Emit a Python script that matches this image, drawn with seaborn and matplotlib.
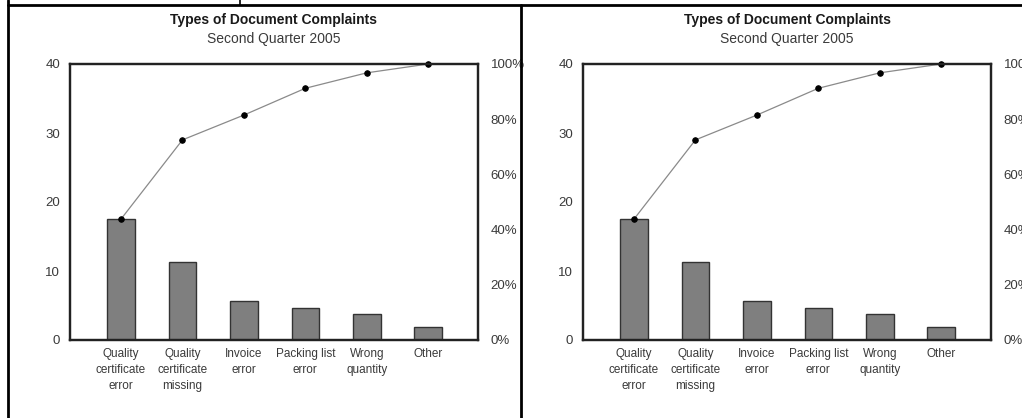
import numpy as np
import pandas as pd
import matplotlib
matplotlib.use("Agg")
import matplotlib.pyplot as plt
from matplotlib.lines import Line2D
import seaborn as sns

categorias = ["Quality\ncertificate\nerror", "Quality\ncertificate\nmissing",
              "Invoice\nerror", "Packing list\nerror", "Wrong\nquantity", "Other"]
contagens = [17.5, 11.35, 5.65, 4.6, 3.7, 1.85]
acumulado_pct = [43.8, 72.5, 81.5, 91.2, 96.8, 100.0]
ticks_esq = [0, 10, 20, 30, 40]
ticks_dir = [0, 20, 40, 60, 80, 100]
titulo = "Types of Document Complaints"
subtitulo = "Second Quarter 2005"

sns.set_style("white")
plt.rcParams["font.family"] = ["Liberation Sans", "DejaVu Sans"]

W, H = 1022, 418
fig = plt.figure(figsize=(W / 100, H / 100), dpi=100)

df = pd.DataFrame({"categoria": categorias, "contagem": contagens, "acum": acumulado_pct})
cor_texto = "#3a3a3a"


def px_rect(x0, y_top, w, h):
    return [x0 / W, (H - y_top - h) / H, w / W, h / H]


def painel(x0):
    ax = fig.add_axes(px_rect(x0, 64, 408, 276))
    sns.barplot(data=df, x="categoria", y="contagem", color="#7f7f7f", saturation=1,
                edgecolor="#333333", linewidth=1.0, width=0.45, ax=ax)
    ax.set_xlim(-0.83, 5.81)
    ax.set_ylim(0, 40)
    ax.set_yticks(ticks_esq)
    ax.set_xlabel("")
    ax.set_ylabel("")
    ax.tick_params(axis="y", length=0, pad=7, labelsize=9.5, labelcolor=cor_texto)
    ax.tick_params(axis="x", length=0, pad=6, labelsize=8.5, labelcolor=cor_texto)
    for lab in ax.get_xticklabels():
        lab.set_linespacing(1.4)
    for s in ax.spines.values():
        s.set_visible(True)
        s.set_color("#222222")
        s.set_linewidth(1.6)

    ax2 = ax.twinx()
    sns.pointplot(data=df, x="categoria", y="acum", color="black", markersize=4,
                  linewidth=0.9, ax=ax2)
    linha = ax2.lines[0]
    linha.set_color("#8a8a8a")
    linha.set_markerfacecolor("black")
    linha.set_markeredgecolor("black")
    linha.set_clip_on(False)
    ax2.set_xlim(-0.83, 5.81)
    ax2.set_ylim(0, 100)
    ax2.set_yticks(ticks_dir)
    ax2.set_yticklabels([f"{t}%" for t in ticks_dir])
    ax2.set_ylabel("")
    ax2.set_xlabel("")
    ax2.tick_params(axis="y", length=0, pad=9, labelsize=9.5, labelcolor=cor_texto)
    for s in ax2.spines.values():
        s.set_color("#222222")
        s.set_linewidth(1.6)

    cx = (x0 + 204) / W
    fig.text(cx, 1 - 20 / H, titulo, ha="center", va="center", fontsize=10,
             fontweight="bold", color="#1a1a1a")
    fig.text(cx, 1 - 39 / H, subtitulo, ha="center", va="center", fontsize=10,
             color=cor_texto)


painel(70)
painel(583)

# — Bordas da tabela —
def linha_px(xs, ys, lw=2.0):
    fig.add_artist(Line2D([x / W for x in xs], [1 - y / H for y in ys],
                          color="black", linewidth=lw, transform=fig.transFigure))

linha_px([7.5, 7.5], [0, H])
linha_px([7.5, W], [4.5, 4.5])
linha_px([240, 240], [0, 4.5], lw=1.2)
linha_px([521, 521], [4.5, H])

fig.savefig("out.png", dpi=100)
